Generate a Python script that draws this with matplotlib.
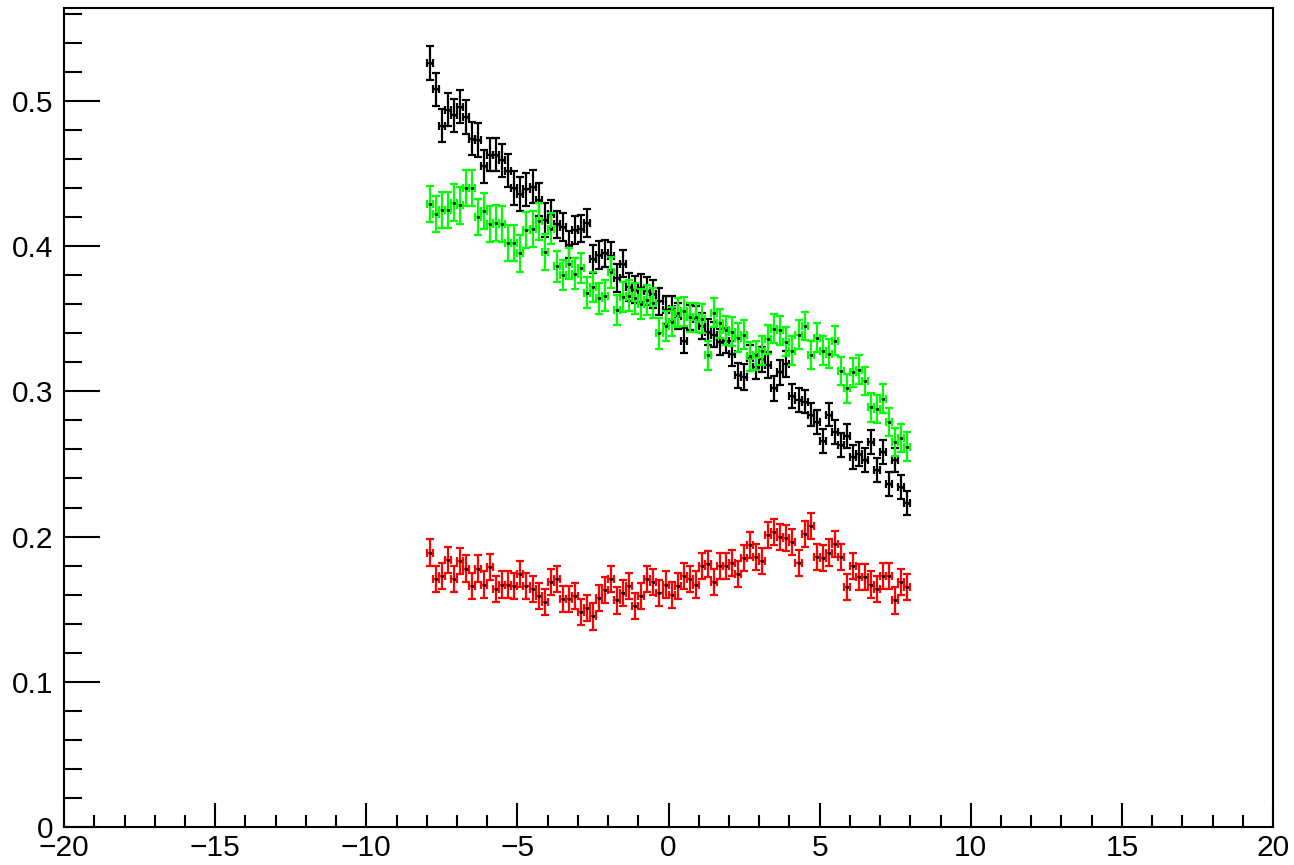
"""Three binned profiles with E1-style error bars, ROOT look."""

import matplotlib

matplotlib.use("Agg")
import matplotlib.pyplot as plt
import numpy as np
from matplotlib.ticker import MultipleLocator

plt.rcParams["font.family"] = ["Liberation Sans", "DejaVu Sans"]

# 80 bins of width 0.2 over [-8, 8]
BIN_LO, BIN_HI, N_BINS = -8.0, 8.0, 80

black_vals = [
    0.526, 0.508, 0.483, 0.494, 0.490, 0.496, 0.489, 0.474, 0.473, 0.455,
    0.463, 0.463, 0.459, 0.452, 0.440, 0.436, 0.439, 0.441, 0.432, 0.418,
    0.422, 0.415, 0.413, 0.401, 0.411, 0.412, 0.416, 0.391, 0.394, 0.395,
    0.393, 0.378, 0.388, 0.372, 0.370, 0.371, 0.369, 0.367, 0.362, 0.356,
    0.357, 0.352, 0.335, 0.351, 0.350, 0.345, 0.341, 0.339, 0.334, 0.335,
    0.326, 0.311, 0.310, 0.323, 0.317, 0.322, 0.318, 0.302, 0.313, 0.319,
    0.297, 0.294, 0.293, 0.284, 0.279, 0.266, 0.284, 0.272, 0.263, 0.269,
    0.255, 0.257, 0.253, 0.265, 0.246, 0.258, 0.236, 0.253, 0.234, 0.223,
]
green_vals = [
    0.429, 0.422, 0.425, 0.425, 0.430, 0.428, 0.440, 0.440, 0.420, 0.424,
    0.415, 0.416, 0.415, 0.402, 0.402, 0.395, 0.411, 0.412, 0.417, 0.396,
    0.412, 0.386, 0.380, 0.388, 0.381, 0.385, 0.368, 0.372, 0.364, 0.366,
    0.382, 0.356, 0.365, 0.366, 0.364, 0.360, 0.363, 0.361, 0.340, 0.345,
    0.348, 0.354, 0.355, 0.351, 0.351, 0.350, 0.325, 0.354, 0.347, 0.342,
    0.341, 0.337, 0.339, 0.324, 0.325, 0.328, 0.336, 0.343, 0.342, 0.334,
    0.328, 0.339, 0.345, 0.325, 0.337, 0.328, 0.326, 0.335, 0.314, 0.302,
    0.313, 0.315, 0.307, 0.289, 0.288, 0.295, 0.279, 0.265, 0.268, 0.262,
]
red_vals = [
    0.189, 0.171, 0.173, 0.184, 0.171, 0.183, 0.178, 0.166, 0.178, 0.167,
    0.179, 0.164, 0.167, 0.167, 0.166, 0.174, 0.166, 0.164, 0.159, 0.155,
    0.169, 0.171, 0.157, 0.157, 0.159, 0.148, 0.151, 0.145, 0.158, 0.163,
    0.171, 0.156, 0.161, 0.166, 0.152, 0.159, 0.171, 0.169, 0.161, 0.167,
    0.160, 0.166, 0.173, 0.171, 0.167, 0.180, 0.181, 0.169, 0.180, 0.180,
    0.182, 0.174, 0.185, 0.194, 0.186, 0.183, 0.201, 0.203, 0.200, 0.199,
    0.196, 0.182, 0.202, 0.207, 0.186, 0.185, 0.189, 0.195, 0.186, 0.165,
    0.180, 0.172, 0.172, 0.167, 0.164, 0.173, 0.173, 0.156, 0.169, 0.165,
]

# y errors (roughly per quarter of the range)
black_err = [0.0115] * 20 + [0.0095] * 20 + [0.0088] * 20 + [0.0082] * 20
green_err = [0.0125] * 20 + [0.0105] * 20 + [0.0100] * 20 + [0.0098] * 20
red_err = [0.0090] * 80

SERIES = [
    ("black", black_vals, black_err, "#000000"),
    ("green", green_vals, green_err, "#00ff00"),
    ("red", red_vals, red_err, "#ff0000"),
]


def main() -> None:
    edges = np.linspace(BIN_LO, BIN_HI, N_BINS + 1)
    centers = 0.5 * (edges[:-1] + edges[1:])
    half_w = 0.5 * (edges[1:] - edges[:-1])

    fig = plt.figure(figsize=(12.94, 8.65), dpi=100)
    ax = fig.add_axes([0.0495, 0.0439, 0.9343, 0.9469])

    for _name, vals, err, color in SERIES:
        ax.errorbar(
            centers,
            vals,
            xerr=half_w,
            yerr=err,
            fmt="none",
            ecolor=color,
            elinewidth=1.6,
            capsize=2.6,
            capthick=1.6,
        )
        ax.plot(centers, vals, ls="none", marker="s", ms=1.5, mfc="black", mec="black", mew=0.5)

    ax.set_xlim(-20, 20)
    ax.set_ylim(0, 0.564)

    ax.xaxis.set_major_locator(MultipleLocator(5))
    ax.xaxis.set_minor_locator(MultipleLocator(1))
    ax.yaxis.set_major_locator(MultipleLocator(0.1))
    ax.yaxis.set_minor_locator(MultipleLocator(0.02))
    ax.yaxis.set_major_formatter(plt.FuncFormatter(lambda v, _p: "0" if abs(v) < 1e-9 else f"{v:g}"))

    ax.tick_params(axis="both", which="both", direction="in", top=False, right=False,
                   width=1.5, labelsize=21.5, colors="black")
    ax.tick_params(axis="x", which="major", length=17.3, pad=5)
    ax.tick_params(axis="x", which="minor", length=8.6)
    ax.tick_params(axis="y", which="major", length=26, pad=8)
    ax.tick_params(axis="y", which="minor", length=13)

    for sp in ax.spines.values():
        sp.set_linewidth(1.5)

    fig.savefig("out.png", dpi=100)
    plt.close(fig)


if __name__ == "__main__":
    main()
